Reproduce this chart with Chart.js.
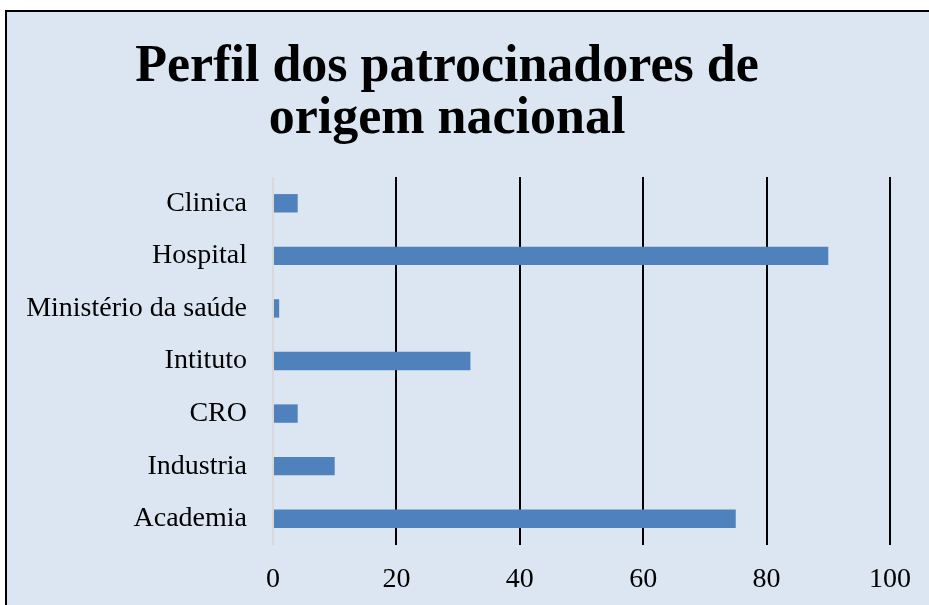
<!DOCTYPE html>
<html>
<head>
<meta charset="utf-8">
<script src="https://cdn.jsdelivr.net/npm/chart.js@4"></script>
<style>
    body { margin: 0; background: #ffffff; overflow: hidden; }
    #box {
        position: absolute; left: 5px; top: 10px;
        width: 960px; height: 620px;
        border: 2px solid #000000;
        background: #dce6f2;
    }
    #wrap { position: absolute; left: 0; top: 0; width: 922px; height: 593px; }
</style>
</head>
<body>
<div id="box"><div id="wrap"><canvas id="bar"></canvas></div></div>
<script>
// Dados do gráfico
var categorias = ['Clinica', 'Hospital', 'Ministério da saúde', 'Intituto', 'CRO', 'Industria', 'Academia'];
var valores = [4, 90, 1, 32, 4, 10, 75];
var marcasX = [0, 20, 40, 60, 80, 100];
var tituloLinhas = ['Perfil dos patrocinadores de', 'origem nacional'];

var fonte = "'Liberation Serif', serif";

// desenha o título em duas linhas (centrado como no original)
var tituloPlugin = {
    id: 'tituloPlugin',
    afterDraw: function(chart) {
        var ctx = chart.ctx;
        ctx.save();
        ctx.fillStyle = '#000000';
        ctx.font = "bold 52px " + fonte;
        ctx.textAlign = 'center';
        ctx.textBaseline = 'alphabetic';
        ctx.fillText(tituloLinhas[0], 440, 69);
        ctx.fillText(tituloLinhas[1], 440, 121);
        ctx.restore();
    }
};

document.addEventListener('DOMContentLoaded', function() {
    var ctx = document.getElementById('bar').getContext('2d');
    new Chart(ctx, {
        type: 'bar',
        data: {
            labels: categorias,
            datasets: [{
                data: valores,
                backgroundColor: '#4f81bd',
                borderWidth: 0,
                categoryPercentage: 1,
                barPercentage: 0.35
            }]
        },
        plugins: [tituloPlugin],
        options: {
            indexAxis: 'y',
            responsive: true,
            maintainAspectRatio: false,
            animation: false,
            layout: { padding: { top: 165, right: 32, left: 0, bottom: 0 } },
            plugins: {
                legend: { display: false },
                tooltip: { enabled: false }
            },
            scales: {
                x: {
                    min: 0,
                    max: 100,
                    afterBuildTicks: function(scale) {
                        scale.ticks = marcasX.map(function(v) { return { value: v }; });
                    },
                    afterFit: function(scale) { scale.height = 60; },
                    border: { display: false },
                    grid: {
                        drawTicks: false,
                        lineWidth: 2,
                        color: function(c) { return c.tick && c.tick.value === 0 ? '#d9d9d9' : '#000000'; }
                    },
                    ticks: {
                        padding: 18,
                        color: '#000000',
                        maxRotation: 0,
                        font: { family: fonte, size: 28 }
                    }
                },
                y: {
                    afterFit: function(scale) { scale.width = 266; },
                    border: { display: false },
                    grid: { display: false, drawTicks: false },
                    ticks: {
                        padding: 26,
                        color: '#000000',
                        font: { family: fonte, size: 28 }
                    }
                }
            }
        }
    });
});
</script>
</body>
</html>
